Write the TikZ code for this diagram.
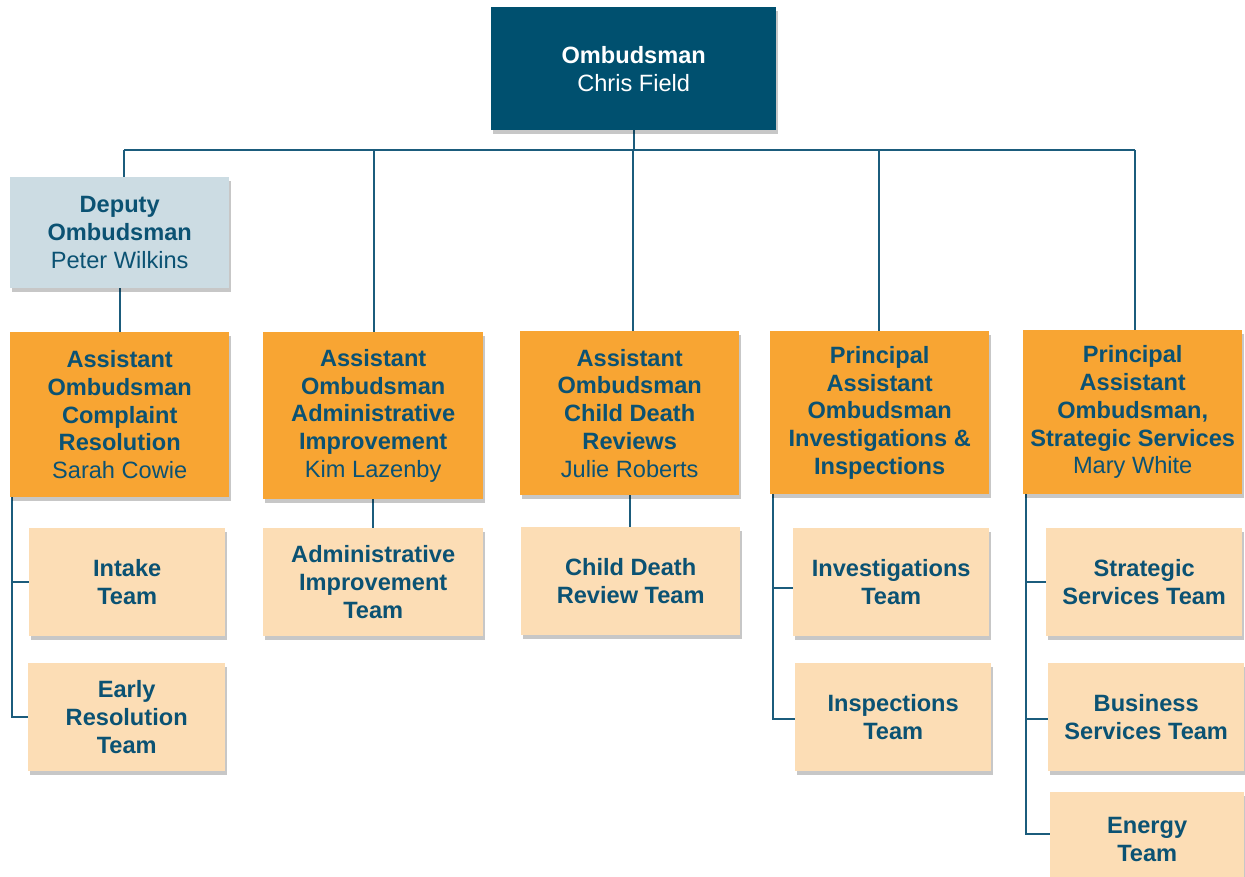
\documentclass[tikz,border=0pt]{standalone}
\usepackage{fontspec}
\setmainfont{Liberation Sans}
\usetikzlibrary{shadows,backgrounds}
\definecolor{navy}{HTML}{00506F}
\definecolor{depfill}{HTML}{CCDCE3}
\definecolor{orangefill}{HTML}{F8A533}
\definecolor{peachfill}{HTML}{FCDDB5}
\definecolor{txt}{HTML}{0B5273}
\definecolor{connc}{HTML}{1B5C7C}
\begin{document}
\begin{tikzpicture}[x=1pt,y=-1pt,
  box/.style={anchor=north west, inner sep=0pt, align=center, text=txt,
    font=\fontsize{23.6}{27.75}\selectfont,
    drop shadow={shadow xshift=2pt, shadow yshift=-4pt, opacity=0.22, fill=black}},
  top/.style={box, fill=navy, text=white},
  dep/.style={box, fill=depfill},
  lead/.style={box, fill=orangefill},
  team/.style={box, fill=peachfill},
  conn/.style={draw=connc, line width=1.8pt}]
\useasboundingbox (0,0) rectangle (1245,877);
\clip (0,0) rectangle (1245,877);

\node[top, minimum width=285, minimum height=123] (omb) at (491,7) {\textbf{Ombudsman}\\Chris Field};
\node[dep, minimum width=219, minimum height=111] (dep) at (10,177) {\textbf{Deputy}\\\textbf{Ombudsman}\\Peter Wilkins};

\node[lead, minimum width=219, minimum height=165] (aocr) at (10,332) {\textbf{Assistant}\\\textbf{Ombudsman}\\\textbf{Complaint}\\\textbf{Resolution}\\Sarah Cowie};
\node[lead, minimum width=220, minimum height=167] (aoai) at (263,332) {\textbf{Assistant}\\\textbf{Ombudsman}\\\textbf{Administrative}\\\textbf{Improvement}\\Kim Lazenby};
\node[lead, minimum width=219, minimum height=164] (aocd) at (520,331) {\textbf{Assistant}\\\textbf{Ombudsman}\\\textbf{Child Death}\\\textbf{Reviews}\\Julie Roberts};
\node[lead, minimum width=219, minimum height=163] (paoi) at (770,331) {\textbf{Principal}\\\textbf{Assistant}\\\textbf{Ombudsman}\\\textbf{Investigations \&}\\\textbf{Inspections}};
\node[lead, minimum width=219, minimum height=164] (paos) at (1023,330) {\textbf{Principal}\\\textbf{Assistant}\\\textbf{Ombudsman,}\\\textbf{Strategic Services}\\Mary White};

\node[team, minimum width=196, minimum height=108] (intake) at (29,528) {\textbf{Intake}\\\textbf{Team}};
\node[team, minimum width=197, minimum height=108] (early) at (28,663) {\textbf{Early}\\\textbf{Resolution}\\\textbf{Team}};
\node[team, minimum width=220, minimum height=108] (aiteam) at (263,528) {\textbf{Administrative}\\\textbf{Improvement}\\\textbf{Team}};
\node[team, minimum width=219, minimum height=108] (cdteam) at (521,527) {\textbf{Child Death}\\\textbf{Review Team}};
\node[team, minimum width=196, minimum height=108] (invteam) at (793,528) {\textbf{Investigations}\\\textbf{Team}};
\node[team, minimum width=196, minimum height=108] (insteam) at (795,663) {\textbf{Inspections}\\\textbf{Team}};
\node[team, minimum width=196, minimum height=108] (ssteam) at (1046,528) {\textbf{Strategic}\\\textbf{Services Team}};
\node[team, minimum width=196, minimum height=108] (bsteam) at (1048,663) {\textbf{Business}\\\textbf{Services Team}};
\node[team, minimum width=194, minimum height=95] (energy) at (1050,792) {\textbf{Energy}\\\textbf{Team}};

\begin{scope}[on background layer]
\coordinate (b1) at (124,150);
\coordinate (b2) at (374,150);
\coordinate (b3) at (633,150);
\coordinate (b4) at (879,150);
\coordinate (b5) at (1135,150);
\draw[conn] (omb.south) -- (omb.south |- b1);
\draw[conn] (b1) -- (b5);
\draw[conn] (b1) -- (b1 |- dep.north);
\draw[conn] (b2) -- (b2 |- aoai.north);
\draw[conn] (b3) -- (b3 |- aocd.north);
\draw[conn] (b4) -- (b4 |- paoi.north);
\draw[conn] (b5) -- (b5 |- paos.north);
\draw[conn] (dep.south) -- (dep.south |- aocr.north);
\draw[conn] (aoai.south) -- (aoai.south |- aiteam.north);
\draw[conn] (aocd.south) -- (aocd.south |- cdteam.north);
\draw[conn] ([xshift=2pt]aocr.south west) |- (intake.west);
\draw[conn] ([xshift=2pt]aocr.south west) |- (early.west);
\draw[conn] ([xshift=3pt]paoi.south west) |- ([yshift=-6pt]invteam.west);
\draw[conn] ([xshift=3pt]paoi.south west) |- ([yshift=-2pt]insteam.west);
\draw[conn] ([xshift=3pt]paos.south west) |- (ssteam.west);
\draw[conn] ([xshift=3pt]paos.south west) |- ([yshift=-2pt]bsteam.west);
\draw[conn] ([xshift=3pt]paos.south west) |- ([yshift=6pt]energy.west);
\end{scope}
\end{tikzpicture}
\end{document}
